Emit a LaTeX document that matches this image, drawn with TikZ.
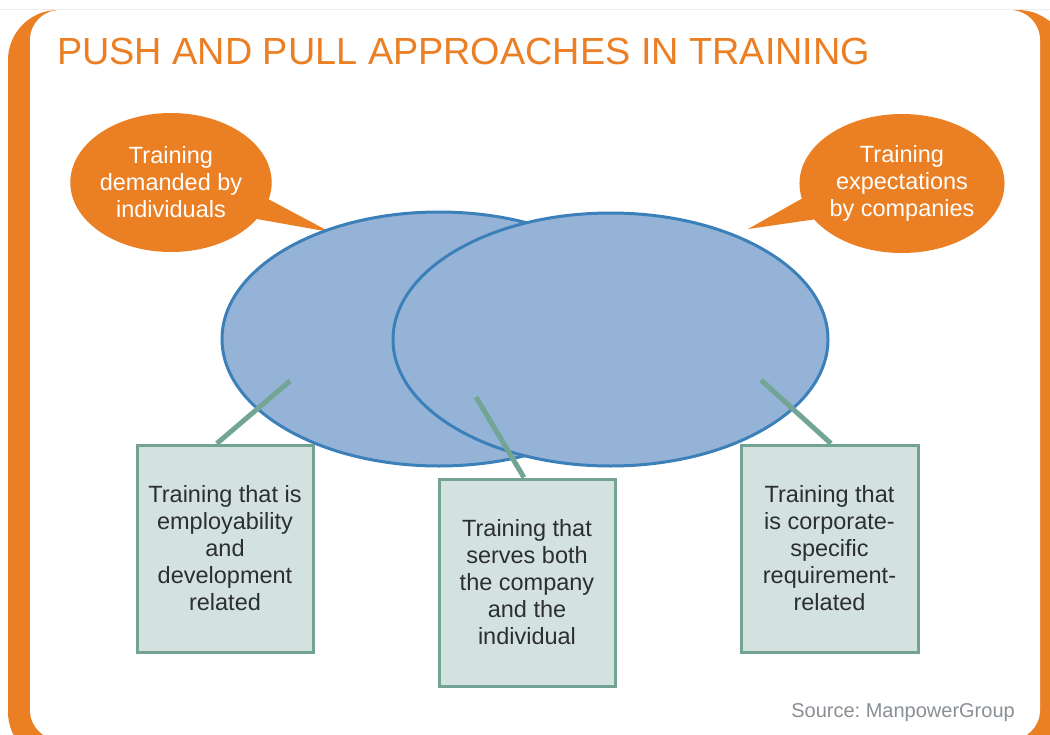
\documentclass[tikz,border=0pt]{standalone}
\usepackage{fontspec}
\setmainfont{Liberation Sans}
\usetikzlibrary{shapes.geometric,calc}
\definecolor{orangeC}{HTML}{EB7F24}
\definecolor{blueFill}{HTML}{95B3D7}
\definecolor{blueLine}{HTML}{3C80BA}
\definecolor{boxFill}{HTML}{D4E2DF}
\definecolor{boxLine}{HTML}{72A395}
\definecolor{connC}{HTML}{72A595}
\definecolor{textDark}{HTML}{2B2E33}
\definecolor{srcGray}{HTML}{8A8F94}
\frenchspacing
\begin{document}
\begin{tikzpicture}[x=1pt,y=-1pt,
  hair/.style={draw=gray!15,line width=0.8pt},
  bubble/.style={ellipse,fill=orangeC,inner sep=0pt,minimum width=200pt,minimum height=139pt,
    text=white,align=center,font=\fontsize{23.5}{27}\selectfont},
  tail/.style={fill=orangeC},
  venn/.style={ellipse,draw=blueLine,fill=blueFill,line width=3pt,inner sep=0pt},
  infobox/.style={rectangle,draw=boxLine,fill=boxFill,line width=3pt,minimum width=176pt,
    minimum height=207pt,inner sep=0pt,align=center,text=textDark,font=\fontsize{23.5}{27}\selectfont},
  conn/.style={draw=connC,line width=5pt}]
\useasboundingbox (0,0) rectangle (1050,734);
\begin{scope}
  \clip (0,0) rectangle (1050,734);
  \fill[orangeC,rounded corners=50pt] (8,10) rectangle (1068,762);
  \fill[white,rounded corners=30pt] (30,10) rectangle (1040,740);
\end{scope}
\draw[hair] (0,9) -- (1050,9);
\node[anchor=base west,inner sep=0pt,text=orangeC,font=\fontsize{37.8}{40}\selectfont] (title) at (57,64) {PUSH AND PULL APPROACHES IN TRAINING};
% bubbles
\fill[tail] (260,194.7) -- (330,232) -- (245,216.9) -- cycle;
\fill[tail] (812,192.9) -- (748,229) -- (830,217.1) -- cycle;
\node[bubble] (bL) at (171,182.5) {Training\\demanded by\\individuals};
\node[bubble,minimum width=198pt] (bR) at (902,183.5) {Training\\expectations\\by companies};
% venn ellipses
\node[venn,minimum width=434pt,minimum height=254pt] (eL) at (439,339) {};
\node[venn,minimum width=435pt,minimum height=253pt] (eR) at (610.5,339.5) {};
% boxes
\node[infobox] (b1) at (225,548.5) {Training that is\\employability\\and\\development\\related};
\node[infobox] (b2) at (527,582.5) {Training that\\serves both\\the company\\and the\\individual};
\node[infobox,minimum width=177pt] (b3) at (829.5,548.5) {Training that\\is corporate-\\specific\\requirement-\\related};
% connectors
\coordinate (c1) at (290,381);
\coordinate (c2) at (476,397);
\coordinate (c3) at (761,380);
\draw[conn] (c1) -- ($(b1.north west)!0.4545!(b1.north east)$);
\draw[conn] (c2) -- ($(b2.north west)!0.483!(b2.north east)$);
\draw[conn] (c3) -- ($(b3.north west)!0.508!(b3.north east)$);
\node[anchor=base east,inner sep=0pt,text=srcGray,font=\fontsize{20}{24}\selectfont] (src) at (1015,717) {Source: ManpowerGroup};
\end{tikzpicture}
\end{document}
